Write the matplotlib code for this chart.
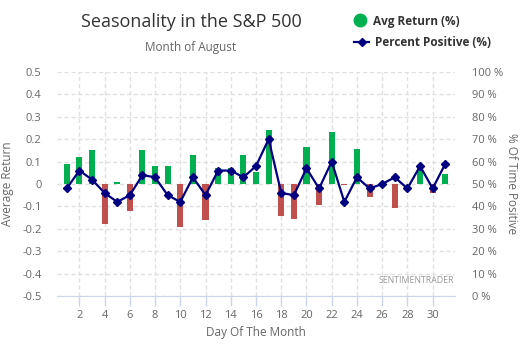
import numpy as np
import matplotlib
matplotlib.use('Agg')
import matplotlib.pyplot as plt

plt.rcParams['font.family'] = ['Open Sans', 'DejaVu Sans']
plt.rcParams['lines.scale_dashes'] = False

# S&P 500, August, par jour du mois
days = list(range(1, 32))
avg_return = [0.09, 0.12, 0.15, -0.18, 0.008, -0.12, 0.15, 0.08, 0.08, -0.19,
              0.13, -0.16, 0.07, 0.07, 0.13, 0.055, 0.24, -0.145, -0.155, 0.165,
              -0.095, 0.23, -0.005, 0.155, -0.06, 0.0, -0.105, 0.0, 0.07, -0.04,
              0.045]
pct_positive = [48, 56, 52, 46, 42, 45, 54, 53, 45, 42, 53, 45, 56, 56, 53, 58,
                70, 46, 45, 57, 48, 60, 42, 53, 48, 50, 53, 48, 58, 48, 59]

GREEN = '#00b050'
RED = '#c0504d'
NAVY = '#000080'
GRID = '#e0e0e0'
AXIS = '#ccd6eb'
TXT = '#666666'

W, H = 529, 344
fig = plt.figure(figsize=(W / 100, H / 100), dpi=100)
ax = fig.add_axes([57 / W, 1 - 296 / H, (455 - 57) / W, (296 - 72) / H])

colors = [GREEN if v >= 0 else RED for v in avg_return]
ax.bar(days, avg_return, width=0.48, color=colors, zorder=2)

ax.set_xlim(0.23, 31.77)
ax.set_ylim(-0.5, 0.5)
yticks = np.round(np.arange(-0.5, 0.51, 0.1), 1)
ax.set_xticks(range(2, 31, 2))
ax.set_yticks(yticks)
ax.set_yticklabels(['{:g}'.format(v) if abs(v) > 1e-9 else '0' for v in yticks])
ax.grid(True, color=GRID, linestyle=(0, (3, 2)), linewidth=1, zorder=0)
ax.set_axisbelow(True)

for s in ['top', 'left', 'right']:
    ax.spines[s].set_visible(False)
ax.spines['bottom'].set_color(AXIS)
ax.tick_params(axis='x', colors=AXIS, labelcolor=TXT, length=7, width=1,
               labelsize=8, pad=3)
ax.tick_params(axis='y', length=0, labelcolor=TXT, labelsize=8, pad=11)

ax.set_xlabel('Day Of The Month', color=TXT, fontsize=8.5, labelpad=4)
ax.set_ylabel('Average Return', color=TXT, fontsize=8.5, labelpad=6)

ax2 = ax.twinx()
ax2.plot(days, pct_positive, color=NAVY, linewidth=1.6, marker='D',
         markersize=4.2, zorder=3)
ax2.set_ylim(0, 100)
ax2.set_yticks(range(0, 101, 10))
ax2.set_yticklabels(['{} %'.format(v) for v in range(0, 101, 10)])
for s in ax2.spines.values():
    s.set_visible(False)
ax2.tick_params(axis='y', length=0, labelcolor=TXT, labelsize=8, pad=12)
ax2.set_ylabel('% Of Time Positive', color=TXT, fontsize=8.5, rotation=270,
               labelpad=11)

ax.text(0.998, 0.05, 'SENTIMENTRADER', transform=ax.transAxes, ha='right',
        va='bottom', fontsize=6.3, color='#999999')

fig.text(191 / W, 1 - 22 / H, 'Seasonality in the S&P 500', ha='center',
         va='center', fontsize=13, color='#333333')
fig.text(191 / W, 1 - 48 / H, 'Month of August', ha='center', va='center',
         fontsize=8.5, color=TXT)

# légende
fig.text(373 / W, 1 - 21 / H, 'Avg Return (%)', ha='left', va='center',
         fontsize=8.5, fontweight='bold', color='#333333')
fig.text(375 / W, 1 - 42 / H, 'Percent Positive (%)', ha='left', va='center',
         fontsize=8.5, fontweight='bold', color='#333333')
fig.add_artist(plt.Line2D([360 / W], [1 - 20 / H], marker='o', markersize=9,
                          color=GREEN, linestyle='none',
                          transform=fig.transFigure))
fig.add_artist(plt.Line2D([354 / W, 369 / W], [1 - 42 / H, 1 - 42 / H],
                          color=NAVY, linewidth=1.6, transform=fig.transFigure))
fig.add_artist(plt.Line2D([361.5 / W], [1 - 42 / H], marker='D', markersize=4,
                          color=NAVY, linestyle='none',
                          transform=fig.transFigure))

fig.savefig('out.png', dpi=100)
